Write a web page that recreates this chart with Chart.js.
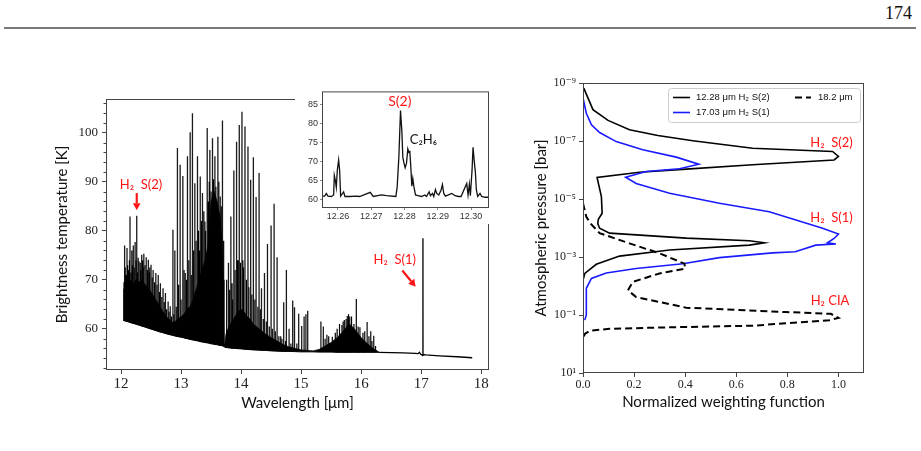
<!DOCTYPE html>
<html><head><meta charset="utf-8">
<script src="https://cdn.jsdelivr.net/npm/chart.js@4.4.0/dist/chart.umd.min.js"></script>
<style>
html,body{margin:0;padding:0;background:#fff;width:921px;height:451px;overflow:hidden;}
.cv{position:absolute;}
#pageno{position:absolute;right:9px;top:3px;font:18px "Liberation Serif",serif;color:#111;}
#rule{position:absolute;left:4px;top:27px;width:912px;height:2px;background:#7a7a7a;}
</style></head><body>
<div id="pageno">174</div><div id="rule"></div>
<canvas id="main" class="cv" style="left:0;top:0" width="921" height="451"></canvas>
<canvas id="wf" class="cv" style="left:0;top:0" width="921" height="451"></canvas>
<canvas id="inset" class="cv" style="left:295px;top:84px;background:#fff" width="198" height="140"></canvas>
<script>
// ---------------- DATA: main spectrum ----------------
const forestWl = [12.04,12.045,12.1,12.15,12.2,12.25,12.3,12.35,12.4,12.45,12.5,12.55,12.6,12.65,12.7,12.75,12.8,12.85,12.9,12.95,13.0,13.05,13.1,13.15,13.2,13.25,13.3,13.35,13.4,13.45,13.48,13.5,13.55,13.6,13.65,13.68,13.7,13.715,13.73,13.75,13.8,13.85,13.9,13.95,14.0,14.05,14.1,14.15,14.2,14.3,14.4,14.5,14.6,14.7,14.8,14.9,15.0,15.1,15.2,15.3,15.4,15.5,15.6,15.7,15.8,15.85,15.9,16.0,16.1,16.2,16.28,16.3];
const forestTop = [61.7,68.0,69.5,70.0,69.0,70.0,69.5,70.0,69.0,68.5,67.5,66.5,65.5,64.5,63.5,62.5,62.0,61.3,61.5,62.0,62.5,63.0,64.0,64.5,66.0,68.0,70.0,72.0,74.0,77.0,82.0,86.0,88.0,86.0,83.0,78.0,70.0,56.4,57.0,59.0,60.5,61.5,62.5,63.5,64.0,63.5,62.5,62.0,61.0,60.0,59.0,58.2,57.5,56.8,56.3,56.0,55.7,55.6,55.5,55.8,56.5,57.2,58.2,59.5,61.0,60.5,59.8,58.2,57.0,56.0,55.4,55.2];
const forestBottom = [61.7,61.7,61.5,61.3,61.1,60.95,60.75,60.55,60.35,60.15,59.95,59.75,59.55,59.35,59.2,59.0,58.85,58.7,58.55,58.4,58.3,58.15,58.0,57.85,57.7,57.6,57.45,57.3,57.2,57.1,57.0,56.95,56.85,56.75,56.6,56.55,56.5,56.4,56.2,56.2,56.1,56.05,56.0,55.95,55.9,55.85,55.8,55.75,55.7,55.65,55.6,55.5,55.45,55.4,55.4,55.35,55.3,55.3,55.3,55.25,55.25,55.25,55.2,55.2,55.2,55.2,55.2,55.2,55.2,55.2,55.2,55.2];

// strong lines
const spikeWl = [12.06,12.10,12.15,12.18,12.205,12.235,12.262,12.30,12.345,12.38,12.42,12.455,12.50,12.535,12.58,12.62,12.656,12.70,12.74,12.785,12.82,12.865,12.897,12.94,12.985,13.03,13.07,13.107,13.152,13.19,13.23,13.274,13.32,13.357,13.397,13.436,13.48,13.524,13.564,13.614,13.653,13.69,13.79,13.83,13.85,13.88,13.925,13.955,13.97,14.015,14.03,14.065,14.115,14.16,14.205,14.25,14.30,14.34,14.39,14.44,14.50,14.55,14.60,14.66,14.71,14.755,14.80,14.86,14.89,14.96,15.01,15.05,15.08,15.11,15.33,15.37,15.43,15.52,15.57,15.68,15.72,15.77,15.81,15.92,15.98,16.03,16.10,16.16,16.21];
const spikeTop = [77.0,76.5,82.9,76.0,77.0,77.7,83.1,73.8,75.1,75.3,74.6,74.1,73.1,72.0,71.4,71.0,69.3,68.3,67.3,65.6,64.6,80.2,76.0,96.9,93.5,91.2,71.4,95.2,100.1,104.0,89.7,95.2,91.1,87.7,81.9,101.0,96.5,98.9,95.2,99.2,87.0,102.5,73.5,82.9,69.3,92.3,98.2,74.0,101.6,104.3,74.0,101.3,97.2,90.4,95.0,86.9,91.8,68.3,71.4,77.3,81.1,85.5,74.6,58.5,65.4,72.0,60.0,65.8,64.4,63.1,60.6,62.5,63.0,63.7,61.5,60.5,58.8,58.4,59.2,60.8,61.8,62.6,62.5,66.1,60.3,59.2,61.4,59.5,58.6];
const spikeBase = [61.6,61.5,61.3,61.2,61.1,61.0,60.9,60.7,60.5,60.4,60.2,60.1,59.9,59.8,59.6,59.5,59.3,59.2,59.0,58.9,58.8,58.6,58.5,58.4,58.3,58.2,58.0,57.95,57.8,57.7,57.6,57.5,57.4,57.3,57.2,57.1,57.0,56.9,56.8,56.7,56.6,56.5,56.1,56.05,56.0,56.0,55.95,55.9,55.9,55.9,55.9,55.85,55.8,55.75,55.7,55.7,55.65,55.6,55.6,55.55,55.5,55.5,55.45,55.45,55.4,55.4,55.4,55.35,55.35,55.35,55.3,55.3,55.3,55.3,55.25,55.25,55.25,55.25,55.25,55.2,55.2,55.2,55.2,55.2,55.2,55.2,55.2,55.2,55.2];

// weaker lines forming the dense forest texture
const weakWl  = [12.05,12.07,12.09,12.11,12.125,12.14,12.165,12.19,12.22,12.25,12.275,12.285,12.32,12.33,12.36,12.37,12.40,12.44,12.47,12.48,12.52,12.56,12.60,12.64,12.68,12.72,12.76,12.80,12.84,12.88,12.92,12.96,13.00,13.05,13.09,13.13,13.17,13.21,13.25,13.29,13.31,13.34,13.38,13.41,13.45,13.47,13.50,13.54,13.58,13.63,13.67,13.71,13.76,13.81,13.86,13.90,13.94,13.99,14.04,14.09,14.13,14.18,14.23,14.28,14.32,14.37,14.42,14.47,14.52,14.57,14.63,14.68,14.74,14.83,14.93,15.40,15.46,15.60,15.64,15.70,15.75,15.79,15.84,15.88,15.95,16.06,16.13,16.18,16.24];
const weakTop = [69.5,72.5,71.0,73.0,72.0,74.0,71.5,73.0,72.5,74.0,71.5,74.5,73.5,72.0,74.0,72.5,73.0,72.0,71.5,72.5,70.5,69.5,69.0,67.5,66.5,65.5,64.0,63.5,62.5,63.0,64.5,69.0,66.0,72.0,70.0,74.0,71.0,76.0,78.0,80.0,76.0,82.0,84.0,80.0,86.0,90.0,88.0,90.5,89.0,90.0,85.0,78.0,70.0,68.0,66.0,72.0,74.0,73.5,72.5,70.0,68.5,67.0,66.0,64.5,64.0,62.0,61.5,60.5,60.0,59.5,58.5,58.0,57.5,57.0,57.0,58.0,58.5,60.0,61.0,61.5,62.0,63.0,62.5,61.0,60.5,59.5,58.5,57.5,56.5];
const weakBase = [61.6,61.6,61.5,61.45,61.4,61.35,61.25,61.15,61.0,60.95,60.85,60.8,60.65,60.6,60.5,60.45,60.35,60.2,60.05,60.0,59.85,59.7,59.55,59.4,59.25,59.1,58.95,58.85,58.7,58.6,58.45,58.35,58.3,58.15,58.05,57.9,57.8,57.7,57.6,57.5,57.45,57.35,57.25,57.2,57.1,57.05,56.95,56.85,56.75,56.65,56.55,56.45,56.2,56.1,56.05,56.0,55.95,55.9,55.85,55.8,55.8,55.75,55.7,55.65,55.65,55.6,55.55,55.55,55.5,55.5,55.45,55.4,55.4,55.4,55.35,55.25,55.25,55.2,55.2,55.2,55.2,55.2,55.2,55.2,55.2,55.2,55.2,55.2,55.2];

const tailWl = [16.3,16.5,16.7,16.9,16.95,16.97,16.99,17.02,17.029,17.03,17.031,17.05,17.08,17.3,17.6,17.85];
const tailT  = [55.2,55.15,55.1,55.0,54.95,55.2,54.85,54.6,54.6,78.5,54.6,54.75,54.7,54.5,54.3,54.1];

const mainXTicks = [12,13,14,15,16,17,18];
const mainYTicks = [60,70,80,90,100];

// ---------------- DATA: inset ----------------
const insetWl = [12.2552,12.2560,12.2565,12.2570,12.2580,12.2587,12.2589,12.2592,12.2595,12.2598,12.2602,12.2605,12.2608,12.2617,12.2621,12.2635,12.2655,12.2665,12.2697,12.2706,12.2731,12.2746,12.2774,12.2778,12.2783,12.2788,12.2792,12.2795,12.2799,12.2802,12.2806,12.2810,12.2813,12.2816,12.2819,12.2822,12.2825,12.2828,12.2833,12.2841,12.2851,12.2861,12.2866,12.2874,12.2878,12.2884,12.2888,12.2893,12.2897,12.2903,12.2910,12.2914,12.2918,12.2923,12.2932,12.2942,12.2952,12.2962,12.2970,12.2987,12.2991,12.2995,12.2998,12.3003,12.3006,12.3010,12.3013,12.3016,12.3020,12.3027,12.3032,12.3042,12.3055];
const insetT = [61.0,61.0,61.7,61.0,60.9,61.3,66.4,65.1,63.3,67.7,70.4,67.7,61.0,62.1,60.9,60.9,61.0,60.9,62.0,60.9,61.3,61.1,60.9,63.4,71.1,83.3,78.0,71.1,69.4,68.4,69.6,73.3,72.4,72.6,68.6,63.6,65.6,63.6,61.3,61.1,60.9,61.3,60.9,62.1,61.1,61.7,60.9,62.7,61.7,61.3,62.6,64.0,61.7,61.0,61.3,61.7,61.1,60.9,60.9,64.3,61.3,64.1,61.1,67.7,73.7,69.8,67.3,62.6,60.9,61.7,60.9,60.7,60.7];
const insetXTicks = [12.26,12.27,12.28,12.29,12.30];
const insetYTicks = [60,65,70,75,80,85];

// ---------------- DATA: weighting functions ----------------
const s2Weight   = [0.003,0.039,0.098,0.182,0.293,0.43,0.664,0.977,1.0,0.983,0.664,0.404,0.221,0.055,0.072,0.075,0.06,0.058,0.065,0.104,0.404,0.651,0.71,0.651,0.339,0.143,0.052,0.007,0.0];
const s2Pressure = [1.5e-9,8.3e-9,1.95e-8,4.1e-8,6.5e-8,9.8e-8,1.78e-7,2.3e-7,3.4e-7,4.5e-7,6.6e-7,9.3e-7,1.2e-6,1.8e-6,8.3e-6,3.1e-5,5.0e-5,7.1e-5,1.02e-4,1.5e-4,2.24e-4,2.75e-4,3.24e-4,3.9e-4,5.75e-4,9.3e-4,1.78e-3,3.7e-3,6.3e-3];
const s1Weight   = [0.0,0.013,0.033,0.065,0.13,0.234,0.365,0.453,0.378,0.247,0.167,0.208,0.339,0.534,0.729,0.938,1.0,0.983,0.957,0.99,0.911,0.831,0.742,0.534,0.391,0.208,0.091,0.033,0.013,0.013,0.007];
const s1Pressure = [3.3e-9,1.1e-8,2.75e-8,5.1e-8,1.05e-7,2.0e-7,3.6e-7,6.3e-7,9.1e-7,1.12e-6,1.78e-6,2.9e-6,6.3e-6,1.41e-5,2.75e-5,1.02e-4,1.62e-4,2.3e-4,3.24e-4,3.55e-4,3.9e-4,6.6e-4,7.2e-4,1.05e-3,1.7e-3,2.5e-3,3.55e-3,5.5e-3,1.2e-2,0.1,0.15];
const ciaWeight   = [0.0,0.013,0.03,0.065,0.182,0.299,0.397,0.40,0.299,0.195,0.176,0.208,0.404,0.794,0.97,1.0,0.964,0.664,0.299,0.104,0.026,0.007,0.003];
const ciaPressure = [1.41e-5,4.1e-5,7.1e-5,1.5e-4,3.4e-4,7.4e-4,1.7e-3,2.5e-3,3.7e-3,7.2e-3,1.41e-2,2.4e-2,5.6e-2,7.9e-2,9.1e-2,0.126,0.151,0.234,0.27,0.30,0.35,0.45,0.575];
const wfXTicks = [0,0.2,0.4,0.6,0.8,1.0];
const wfYTicks = [1e-9,1e-7,1e-5,1e-3,1e-1,10];
const legendLabels = ['12.28 μm H₂ S(2)','18.2 μm','17.03 μm H₂ S(1)'];

// ---------------- annotations (data coordinates) ----------------
const RED = '#ff1414';
const mainNotes = [
  {text:'H₂  S(2)', x:12.334, y:89.4, color:RED, size:13},
  {text:'H₂  S(1)', x:16.56, y:74.0, color:RED, size:13}
];
const mainArrows = [
  {x1:12.262, y1:87.7, x2:12.262, y2:84.2},
  {x1:16.686, y1:71.9, x2:16.908, y2:68.6}
];
const insetNotes = [
  {text:'S(2)', x:12.2786, y:85.7, color:RED, size:14},
  {text:'C₂H₆', x:12.2857, y:75.8, color:'#111', size:13}
];
const wfNotes = [
  {text:'H₂  S(2)', x:0.973, y:1.12e-7, color:RED, size:13},
  {text:'H₂  S(1)', x:0.973, y:4.4e-5, color:RED, size:13},
  {text:'H₂ CIA', x:0.967, y:0.033, color:RED, size:13}
];

// ---------------- helpers ----------------
const SANS = 'Lato, "Noto Sans", sans-serif';
const SERIF = '"Liberation Serif", "DejaVu Serif", serif';
const FRAME = '#444';
function pts(xs, ys){ return xs.map((x,i)=>({x:x, y:ys[i]})); }
function spikes(ws, tops, bases){ const out=[]; ws.forEach((w,i)=>{ out.push({x:w,y:bases[i]},{x:w,y:tops[i]},{x:w,y:null}); }); return out; }
function setTicks(list){ return s => { s.ticks = list.map(v=>({value:v})); }; }
const SUP = {'-':'⁻','0':'⁰','1':'¹','2':'²','3':'³','4':'⁴','5':'⁵','6':'⁶','7':'⁷','8':'⁸','9':'⁹'};
function pow10Label(v){ const e = Math.round(Math.log10(v)); return '10' + String(e).split('').map(c=>SUP[c]).join(''); }

function drawArrow(ctx, x1,y1,x2,y2,color){
  const ang = Math.atan2(y2-y1, x2-x1), head = 7, hw = 3.8;
  const hx = x2 - head*Math.cos(ang), hy = y2 - head*Math.sin(ang);
  ctx.strokeStyle = color; ctx.fillStyle = color; ctx.lineWidth = 2.2;
  ctx.beginPath(); ctx.moveTo(x1,y1); ctx.lineTo(hx,hy); ctx.stroke();
  ctx.beginPath(); ctx.moveTo(x2,y2);
  ctx.lineTo(hx + hw*Math.sin(ang), hy - hw*Math.cos(ang));
  ctx.lineTo(hx - hw*Math.sin(ang), hy + hw*Math.cos(ang));
  ctx.closePath(); ctx.fill();
}

function decorPlugin(cfg){
  return {
    id: 'decor',
    afterDraw(chart){
      const {ctx, chartArea:a, scales:{x, y}} = chart;
      ctx.save();
      ctx.strokeStyle = FRAME; ctx.lineWidth = 1;
      ctx.strokeRect(a.left+0.5, a.top+0.5, a.right-a.left-1, a.bottom-a.top-1);
      if (cfg.minorY){
        ctx.beginPath();
        cfg.minorY.forEach(v=>{ const py = Math.round(y.getPixelForValue(v))+0.5; ctx.moveTo(a.left-2.5, py); ctx.lineTo(a.left, py); });
        ctx.stroke();
      }
      (cfg.arrows||[]).forEach(r=>{
        drawArrow(ctx, x.getPixelForValue(r.x1), y.getPixelForValue(r.y1), x.getPixelForValue(r.x2), y.getPixelForValue(r.y2), RED);
      });
      ctx.textAlign = 'center'; ctx.textBaseline = 'middle';
      (cfg.notes||[]).forEach(n=>{
        ctx.font = n.size + 'px ' + SANS; ctx.fillStyle = n.color;
        ctx.fillText(n.text, x.getPixelForValue(n.x), y.getPixelForValue(n.y));
      });
      if (cfg.legend){
        const L = a.right - 196, T = a.top + 5, W = 192, H = 34;
        ctx.fillStyle = 'rgba(255,255,255,0.85)'; ctx.strokeStyle = '#cccccc'; ctx.lineWidth = 1;
        ctx.beginPath(); ctx.roundRect(L+0.5, T+0.5, W, H, 3); ctx.fill(); ctx.stroke();
        const ds = chart.data.datasets;
        const items = [
          {d:ds[2], tx:L+28, lx1:L+5, lx2:L+22, yy:T+9.5, label:legendLabels[0]},
          {d:ds[0], tx:L+150, lx1:L+127, lx2:L+143, yy:T+9.5, label:legendLabels[1]},
          {d:ds[1], tx:L+28, lx1:L+5, lx2:L+22, yy:T+24.5, label:legendLabels[2]}
        ];
        ctx.textAlign = 'left'; ctx.textBaseline = 'middle';
        ctx.font = '9.5px "Liberation Sans", "DejaVu Sans", sans-serif';
        items.forEach(it=>{
          ctx.strokeStyle = it.d.borderColor; ctx.lineWidth = it.d.borderWidth;
          ctx.setLineDash(it.d.borderDash || []);
          ctx.beginPath(); ctx.moveTo(it.lx1, it.yy); ctx.lineTo(it.lx2, it.yy); ctx.stroke();
          ctx.setLineDash([]);
          ctx.fillStyle = '#111'; ctx.fillText(it.label, it.tx, it.yy);
        });
      }
      ctx.restore();
    }
  };
}

const baseOpts = {responsive:false, devicePixelRatio:1, animation:false, events:[],
  plugins:{legend:{display:false}, tooltip:{enabled:false}}};

// ---------------- main spectrum ----------------
const minorY = [];
for (let v=52; v<=106; v+=2) if (v%10!==0) minorY.push(v);

new Chart(document.getElementById('main'), {
  type:'line',
  data:{datasets:[
    {data:pts(forestWl, forestBottom), borderColor:'#000', borderWidth:1, pointRadius:0, fill:false, tension:0},
    {data:pts(forestWl, forestTop), borderColor:'#000', borderWidth:0.8, pointRadius:0, backgroundColor:'#000', fill:0, tension:0},
    {data:spikes(weakWl, weakTop, weakBase), borderColor:'#000', borderWidth:1.2, pointRadius:0, fill:false, spanGaps:false, tension:0},
    {data:spikes(spikeWl, spikeTop, spikeBase), borderColor:'#1a1a1a', borderWidth:1.3, pointRadius:0, fill:false, spanGaps:false, tension:0},
    {data:pts(tailWl, tailT), borderColor:'#000', borderWidth:1.3, pointRadius:0, fill:false, tension:0}
  ]},
  options:Object.assign({}, baseOpts, {
    layout:{padding:{left:0, top:99, right:432, bottom:31}},
    scales:{
      x:{type:'linear', min:11.75, max:18.13, afterBuildTicks:setTicks(mainXTicks), afterFit:s=>{s.height=50;},
         ticks:{autoSkip:false, maxRotation:0, padding:1, color:'#222', font:{family:SERIF, size:15}, callback:v=>String(v)},
         grid:{display:true, drawOnChartArea:false, drawTicks:true, tickLength:4, color:FRAME},
         border:{display:false},
         title:{display:true, text:'Wavelength [μm]', color:'#111', font:{family:SANS, size:15}, padding:{top:0, bottom:8}}},
      y:{type:'linear', min:51.6, max:106.9, afterBuildTicks:setTicks(mainYTicks), afterFit:s=>{s.width=106;},
         ticks:{autoSkip:false, padding:4, color:'#222', font:{family:SERIF, size:13}, callback:v=>String(v)},
         grid:{display:true, drawOnChartArea:false, drawTicks:true, tickLength:4, color:FRAME},
         border:{display:false},
         title:{display:true, text:'Brightness temperature [K]', color:'#111', font:{family:SANS, size:15}, padding:{top:53, bottom:0}}}
    }
  }),
  plugins:[decorPlugin({minorY:minorY, notes:mainNotes, arrows:mainArrows})]
});

// ---------------- inset ----------------
new Chart(document.getElementById('inset'), {
  type:'line',
  data:{datasets:[{data:pts(insetWl, insetT), borderColor:'#111', borderWidth:1.3, pointRadius:0, fill:false, tension:0}]},
  options:Object.assign({}, baseOpts, {
    layout:{padding:{left:0, top:6, right:4, bottom:0}},
    scales:{
      x:{type:'linear', min:12.2552, max:12.3054, afterBuildTicks:setTicks(insetXTicks), afterFit:s=>{s.height=16;},
         ticks:{autoSkip:false, maxRotation:0, padding:1, color:'#333', font:{family:'"Liberation Sans", sans-serif', size:9}, callback:v=>v.toFixed(2)},
         grid:{display:true, drawOnChartArea:false, drawTicks:true, tickLength:2, color:'#888'},
         border:{display:false}},
      y:{type:'linear', min:57.9, max:88.3, afterBuildTicks:setTicks(insetYTicks), afterFit:s=>{s.width=27;},
         ticks:{autoSkip:false, padding:2, color:'#333', font:{family:'"Liberation Sans", sans-serif', size:9}, callback:v=>String(v)},
         grid:{display:true, drawOnChartArea:false, drawTicks:true, tickLength:2, color:'#888'},
         border:{display:false}}
    }
  }),
  plugins:[decorPlugin({notes:insetNotes})]
});

// ---------------- weighting functions ----------------
new Chart(document.getElementById('wf'), {
  type:'line',
  data:{datasets:[
    {data:pts(ciaWeight, ciaPressure), borderColor:'#000', borderWidth:2, borderDash:[7,4], pointRadius:0, fill:false, tension:0},
    {data:pts(s1Weight, s1Pressure), borderColor:'#1a1aff', borderWidth:1.6, pointRadius:0, fill:false, tension:0},
    {data:pts(s2Weight, s2Pressure), borderColor:'#000', borderWidth:1.6, pointRadius:0, fill:false, tension:0}
  ]},
  options:Object.assign({}, baseOpts, {
    layout:{padding:{left:520, top:83, right:57, bottom:31}},
    scales:{
      x:{type:'linear', min:0, max:1.1, afterBuildTicks:setTicks(wfXTicks), afterFit:s=>{s.height=47;},
         ticks:{autoSkip:false, maxRotation:0, padding:1, color:'#222', font:{family:SERIF, size:12}, callback:v=>v.toFixed(1)},
         grid:{display:true, drawOnChartArea:false, drawTicks:true, tickLength:4, color:FRAME},
         border:{display:false},
         title:{display:true, text:'Normalized weighting function', color:'#111', font:{family:SANS, size:15}, padding:{top:0, bottom:9}}},
      y:{type:'logarithmic', reverse:true, min:1e-9, max:10, afterBuildTicks:setTicks(wfYTicks), afterFit:s=>{s.width=63;},
         ticks:{autoSkip:false, padding:3, color:'#222', font:{family:SERIF, size:12}, callback:v=>pow10Label(v)},
         grid:{display:true, drawOnChartArea:false, drawTicks:true, tickLength:4, color:FRAME},
         border:{display:false},
         title:{display:true, text:'Atmospheric pressure [bar]', color:'#111', font:{family:SANS, size:15}, padding:{top:12, bottom:0}}}
    }
  }),
  plugins:[decorPlugin({notes:wfNotes, legend:true})]
});
</script>
</body></html>
